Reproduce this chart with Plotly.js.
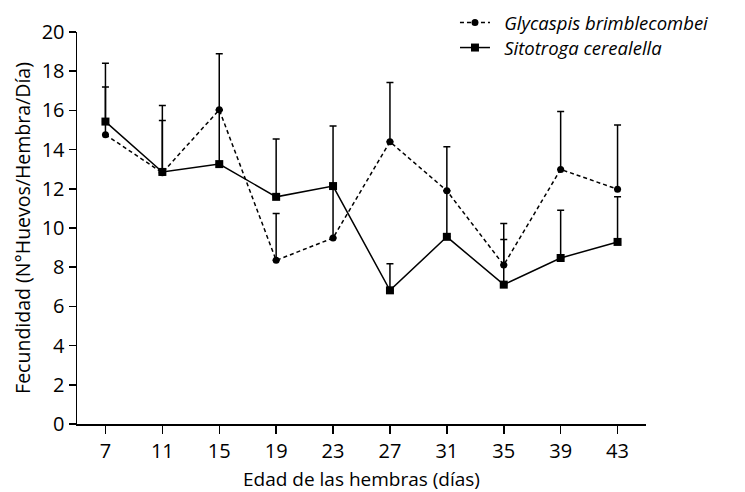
<!DOCTYPE html>
<html>
<head>
<meta charset="utf-8">
<script src="https://cdn.plot.ly/plotly-3.0.1.min.js"></script>
<style>html,body{margin:0;padding:0;background:#fff}#chart{width:745px;height:492px}</style>
</head>
<body>
<div id="chart"></div>
<script>
// Data
const ages = [7, 11, 15, 19, 23, 27, 31, 35, 39, 43];
const glycaspisMean = [14.76, 12.82, 16.03, 8.35, 9.49, 14.40, 11.90, 8.11, 12.99, 11.98];
const glycaspisErr  = [2.43, 2.66, 2.86, 2.39, 2.60, 3.02, 2.25, 2.12, 2.95, 3.28];
const sitotrogaMean = [15.43, 12.86, 13.26, 11.59, 12.14, 6.82, 9.55, 7.11, 8.47, 9.29];
const sitotrogaErr  = [2.98, 3.39, 2.75, 2.95, 3.07, 1.36, 2.35, 2.30, 2.44, 2.30];
const yTicks = [0, 2, 4, 6, 8, 10, 12, 14, 16, 18, 20];
const seriesNames = ['Glycaspis brimblecombei', 'Sitotroga cerealella'];

const FONT = 'Open Sans, Noto Sans, sans-serif';
const zeros = ages.map(() => 0);

function errCfg(arr) {
  return {type: 'data', symmetric: false, array: arr, arrayminus: zeros,
          color: '#000', thickness: 1.5, width: 3.5};
}

const traces = [
  {
    x: ages, y: sitotrogaMean, name: '\u2002' + seriesNames[1], type: 'scatter', mode: 'lines+markers',
    line: {color: '#000', width: 1.5},
    marker: {symbol: 'square', size: 8, color: '#000'},
    error_y: errCfg(sitotrogaErr), legend: 'legend2'
  },
  {
    x: ages, y: glycaspisMean, name: '\u2002' + seriesNames[0], type: 'scatter', mode: 'lines+markers',
    line: {color: '#000', width: 1.5, dash: '4px,3px'},
    marker: {symbol: 'circle', size: 7, color: '#000'},
    error_y: errCfg(glycaspisErr), legend: 'legend'
  }
];

const legFont = {family: FONT, size: 18.5, style: 'italic', color: '#000'};
const layout = {
  width: 745, height: 492,
  margin: {l: 77, r: 99, t: 32, b: 68, autoexpand: false},
  paper_bgcolor: '#fff', plot_bgcolor: '#fff',
  font: {family: FONT, color: '#000', size: 19},
  showlegend: true,
  legend: {
    xref: 'container', yref: 'container',
    x: 0.6107, y: 0.9533, xanchor: 'left', yanchor: 'middle',
    font: legFont, bgcolor: 'rgba(0,0,0,0)'
  },
  legend2: {
    xref: 'container', yref: 'container',
    x: 0.6107, y: 0.9024, xanchor: 'left', yanchor: 'middle',
    font: legFont, bgcolor: 'rgba(0,0,0,0)'
  },
  xaxis: {
    range: [5, 45], tickvals: ages, ticktext: ages.map(String),
    showline: true, linecolor: '#000', linewidth: 1.5,
    ticks: 'outside', ticklen: 8, tickwidth: 1.5, tickcolor: '#000',
    showgrid: false, zeroline: false,
    tickfont: {family: FONT, size: 20, color: '#000'},
    title: {text: 'Edad de las hembras (días)', font: {family: FONT, size: 19, color: '#000'}, standoff: 10}
  },
  yaxis: {
    range: [0, 20], tickvals: yTicks, ticktext: yTicks.map(String),
    showline: true, linecolor: '#000', linewidth: 1.5,
    ticks: 'outside', ticklen: 7, tickwidth: 1.5, tickcolor: '#000',
    showgrid: false, zeroline: false,
    tickfont: {family: FONT, size: 20, color: '#000'},
    title: {text: 'Fecundidad (N°Huevos/Hembra/Día)', font: {family: FONT, size: 19.5, color: '#000'}, standoff: 6}
  }
};

Plotly.newPlot('chart', traces, layout, {displayModeBar: false, staticPlot: true});
</script>
</body>
</html>
